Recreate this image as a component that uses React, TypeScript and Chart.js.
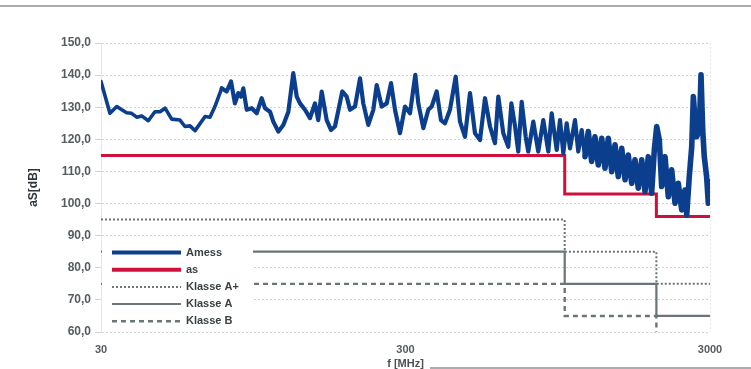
import React, { useEffect, useRef } from "react";
import { Chart, registerables } from "chart.js";

Chart.register(...registerables);

const ameFreq = [
  30, 32.1, 33.8, 35.1, 36.4, 37.8, 39.3, 40.8, 42.9, 45.1, 46.9, 48.7, 51.2, 54.5, 56.6, 58.8, 61.1, 65.9, 68.4, 71.0,
  74.7, 77.6, 80.2, 82.6, 84.7, 86.5, 88.0, 90.3, 93.8, 97.4, 101.1, 103.7, 107.7, 110.4, 114.7, 119.1, 123.7, 128.4, 131.8, 135.1,
  140.3, 145.7, 151.3, 155.1, 159.2, 165.3, 170.8, 176.0, 186, 192.3, 197.2, 204.8, 212.7, 218.0, 226.4, 235.2, 241.3, 250.6, 260.3, 268.9,
  277.1, 287.8, 298.9, 310.4, 323.1, 330.5, 343.3, 356.5, 365.7, 379.8, 392.3, 404.4, 419.9, 438.5, 453.0, 470.5, 488.6, 507.4, 527.0, 547.3,
  568.3, 590.2, 605.2, 628.5, 652.7, 668, 687, 703.8, 722.2, 744.4, 759.2, 788.5, 818.8, 850.4, 883.3, 906.2, 941.2, 965, 989.3, 1015,
  1040.6, 1080.9, 1108, 1137, 1166, 1195, 1226, 1257, 1289, 1323, 1356, 1390, 1427, 1463, 1499, 1539, 1578, 1617, 1660, 1701,
  1744, 1790, 1835, 1881, 1930, 1969, 2005, 2045, 2082, 2135, 2189, 2245, 2303, 2361, 2422, 2483, 2516, 2565, 2613, 2645,
  2679, 2713, 2767, 2803, 2839, 2873, 2924, 2962, 3000,
];

// Measured values aS [dB] (Amess)
const ameVal = [
  138.0, 128.1, 130.2, 129.2, 128.3, 128.1, 126.9, 127.3, 125.8, 128.6, 128.6, 129.7, 126.3, 126.0, 124.0, 124.2, 122.7, 127.1, 126.9, 130.2,
  135.9, 134.9, 138.0, 131.2, 134.4, 133.3, 135.9, 129.2, 129.7, 128.1, 132.8, 129.7, 128.6, 125.5, 122.4, 124.5, 128.6, 140.6, 133.3, 131.2,
  129.2, 126.6, 131.2, 126.0, 134.9, 126.0, 122.9, 124.0, 134.9, 133.3, 129.2, 130.2, 139.0, 131.2, 124.5, 129.2, 136.9, 130.2, 131.2, 137.5,
  129.2, 121.9, 130.2, 128.1, 140.1, 131.2, 123.5, 129.2, 130.2, 134.9, 126.0, 125.0, 129.2, 139.5, 125.5, 120.8, 134.4, 121.9, 119.8, 132.8,
  124.0, 118.8, 133.3, 121.9, 117.7, 131.2, 124.0, 116.2, 131.7, 120.8, 116.2, 125.5, 116.2, 126.0, 116.2, 128.1, 116.7, 126.0, 115.7, 125.0,
  117.2, 126.0, 116.2, 122.9, 114.6, 122.4, 113.1, 120.8, 112.0, 120.3, 111.0, 120.3, 109.9, 118.3, 108.4, 117.2, 107.4, 115.1, 106.3, 113.6,
  104.8, 113.6, 103.7, 114.6, 103.2, 116.7, 124.0, 119.8, 105.3, 114.6, 102.1, 110.5, 100.1, 106.3, 98.0, 104.2, 96.4, 108.4, 117.7, 133.3,
  126.0, 120.8, 122.9, 140.1, 122.9, 114.6, 108.4, 100.1, 106.8,
];

// Step limits: frequency break points (MHz) and levels (dB)
const stepFreq = [30, 1000, 2000, 3000];
const asVal = [115, 103, 96, 96];
const klasseAPlusVal = [95, 85, 75, 75];
const klasseAVal = [85, 75, 65, 65];
const klasseBVal = [75, 65, 55, 55];

const xTicks = [30, 300, 3000];
const yMin = 60;
const yMax = 150;
const yStep = 10;

const seriesNames = ["Amess", "as", "Klasse A+", "Klasse A", "Klasse B"];

const BLUE = "#0c3e8e";
const RED = "#d0103c";
const GRAY = "#6b7477";
const FONT = "'Liberation Sans', Arial, sans-serif";

const legendPlugin = {
  id: "boxLegend",
  afterDatasetsDraw(chart: any) {
    const { ctx, chartArea: ca } = chart;
    ctx.save();
    ctx.fillStyle = "#ffffff";
    ctx.fillRect(ca.left + 1, ca.bottom - 90, 151, 85);
    const styles = [
      { c: BLUE, w: 4, d: [] as number[] },
      { c: RED, w: 4, d: [] as number[] },
      { c: GRAY, w: 2, d: [2, 2] },
      { c: GRAY, w: 2, d: [] as number[] },
      { c: GRAY, w: 2.5, d: [5, 4] },
    ];
    seriesNames.forEach((name, i) => {
      const yy = ca.bottom - 79.5 + i * 17.2;
      const s = styles[i];
      ctx.beginPath();
      ctx.setLineDash(s.d);
      ctx.strokeStyle = s.c;
      ctx.lineWidth = s.w;
      ctx.moveTo(ca.left + 11, yy);
      ctx.lineTo(ca.left + 80, yy);
      ctx.stroke();
      ctx.setLineDash([]);
      ctx.fillStyle = "#3a4144";
      ctx.font = `bold 11px ${FONT}`;
      ctx.textBaseline = "middle";
      ctx.textAlign = "left";
      ctx.fillText(name, ca.left + 85, yy);
    });
    ctx.restore();
  },
  afterDraw(chart: any) {
    const { ctx, width } = chart;
    ctx.save();
    ctx.strokeStyle = "#8e9294";
    ctx.lineWidth = 1.5;
    ctx.beginPath();
    ctx.moveTo(0, 6);
    ctx.lineTo(width, 6);
    ctx.moveTo(430, 368);
    ctx.lineTo(width, 368);
    ctx.stroke();
    ctx.restore();
  },
};

export default function App() {
  const ref = useRef<HTMLCanvasElement | null>(null);

  useEffect(() => {
    if (!ref.current) return;
    const mk = (vals: number[]) => stepFreq.map((f, i) => ({ x: f, y: vals[i] }));
    const chart = new Chart(ref.current, {
      type: "line",
      data: {
        datasets: [
          {
            label: seriesNames[0],
            data: ameFreq.map((f, i) => ({ x: f, y: ameVal[i] })),
            borderColor: BLUE,
            borderWidth: 4.2,
            borderJoinStyle: "round",
            borderCapStyle: "round",
            pointRadius: 0,
            tension: 0,
            segment: {
              borderWidth: (c: any) => (c.p0.parsed.x >= 1150 ? 5.6 : c.p0.parsed.x < 72 ? 3.6 : 4.2),
            },
          },
          {
            label: seriesNames[1],
            data: mk(asVal),
            borderColor: RED,
            borderWidth: 3,
            pointRadius: 0,
            stepped: "before",
          },
          {
            label: seriesNames[2],
            data: mk(klasseAPlusVal),
            borderColor: GRAY,
            borderWidth: 2,
            borderDash: [2, 2],
            pointRadius: 0,
            stepped: "before",
          },
          {
            label: seriesNames[3],
            data: mk(klasseAVal),
            borderColor: GRAY,
            borderWidth: 2.2,
            pointRadius: 0,
            stepped: "before",
          },
          {
            label: seriesNames[4],
            data: mk(klasseBVal),
            borderColor: GRAY,
            borderWidth: 2.4,
            borderDash: [5, 4],
            pointRadius: 0,
            stepped: "before",
          },
        ],
      },
      options: {
        animation: false,
        responsive: true,
        maintainAspectRatio: false,
        layout: { padding: { top: 43, right: 41, left: 0, bottom: 0 } },
        plugins: { legend: { display: false }, tooltip: { enabled: false } },
        scales: {
          x: {
            type: "logarithmic",
            min: 30,
            max: 3000,
            afterBuildTicks: (scale: any) => {
              scale.ticks = xTicks.map((v) => ({ value: v }));
            },
            afterFit: (scale: any) => {
              scale.height = 37;
            },
            ticks: {
              autoSkip: false,
              maxRotation: 0,
              padding: 11,
              color: "#555c60",
              font: { family: FONT, size: 11, weight: "bold" },
              callback: (v: any) => String(v),
            },
            grid: {
              drawTicks: false,
              color: (c: any) => (c.tick && c.tick.value === 300 ? "rgba(0,0,0,0)" : "#e4e6e7"),
            },
            border: { display: false, dash: [2, 2] },
            title: {
              display: true,
              text: "f [MHz]",
              color: "#4a5053",
              font: { family: FONT, size: 11, weight: "bold", lineHeight: 1 },
              padding: { top: 0, bottom: 0 },
            },
          },
          y: {
            min: yMin,
            max: yMax,
            afterFit: (scale: any) => {
              scale.width = 101;
            },
            ticks: {
              stepSize: yStep,
              padding: 4,
              color: "#555c60",
              font: { family: FONT, size: 12, weight: "bold" },
              callback: (v: any) => Number(v).toFixed(1).replace(".", ","),
            },
            grid: {
              color: "#cfd3d5",
              lineWidth: 1,
              tickLength: 6,
            },
            border: { display: true, color: "#e4e6e7", dash: [2, 2] },
            title: {
              display: true,
              text: "aS[dB]",
              color: "#2f3538",
              font: { family: FONT, size: 12, weight: "bold", lineHeight: 1.2 },
              padding: { top: 26, bottom: 0 },
            },
          },
        },
      },
      plugins: [legendPlugin],
    } as any);
    return () => chart.destroy();
  }, []);

  return (
    <div style={{ position: "fixed", left: 0, top: 0, width: 751, height: 369, background: "#fff" }}>
      <canvas ref={ref} />
    </div>
  );
}
